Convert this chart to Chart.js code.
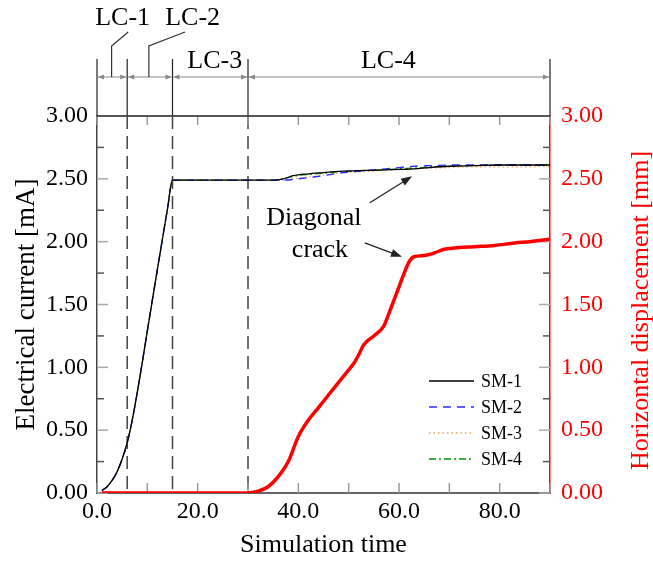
<!DOCTYPE html>
<html lang="en">
<head>
<meta charset="UTF-8">
<title>Electrical current and horizontal displacement</title>
<script src="https://cdn.jsdelivr.net/npm/chart.js"></script>
<style>
  html, body { margin: 0; padding: 0; background: #fff; }
  #wrap { width: 653px; height: 563px; }
</style>
</head>
<body>
<div id="wrap"><canvas id="currentChart" width="653" height="563"></canvas></div>
<script>
// Simulation time shared by the four current series
const smTime = [1, 2, 3, 4, 5, 6, 7, 8, 9, 10, 12, 14, 15, 20, 25, 30, 35, 37, 39, 42, 45, 48, 52, 56, 60, 63, 66, 70, 75, 80, 90];
// Electrical current [mA]
const sm1 = [0.02, 0.05, 0.10, 0.17, 0.27, 0.40, 0.58, 0.80, 1.04, 1.29, 1.78, 2.26, 2.49, 2.49, 2.49, 2.49, 2.49, 2.50, 2.525, 2.54, 2.55, 2.56, 2.565, 2.57, 2.575, 2.58, 2.59, 2.60, 2.605, 2.61, 2.61];
const sm2 = [0.02, 0.05, 0.10, 0.17, 0.27, 0.40, 0.58, 0.80, 1.04, 1.29, 1.78, 2.26, 2.49, 2.49, 2.49, 2.49, 2.49, 2.49, 2.495, 2.51, 2.525, 2.545, 2.56, 2.575, 2.59, 2.60, 2.605, 2.61, 2.61, 2.61, 2.61];
const sm3 = [0.02, 0.05, 0.10, 0.17, 0.27, 0.40, 0.58, 0.80, 1.04, 1.29, 1.78, 2.26, 2.49, 2.49, 2.49, 2.49, 2.49, 2.49, 2.50, 2.515, 2.53, 2.545, 2.555, 2.565, 2.575, 2.58, 2.585, 2.59, 2.595, 2.595, 2.60];
const sm4 = [0.02, 0.05, 0.10, 0.17, 0.27, 0.40, 0.58, 0.80, 1.04, 1.29, 1.78, 2.26, 2.49, 2.49, 2.49, 2.49, 2.49, 2.50, 2.52, 2.535, 2.545, 2.555, 2.565, 2.57, 2.58, 2.585, 2.595, 2.60, 2.605, 2.61, 2.61];

// Horizontal displacement [mm]
const dispTime = [1, 30, 32, 34, 36, 38, 40, 42, 44, 46, 48, 50, 51, 52, 53, 55, 57, 58, 60, 62, 63, 65, 67, 69, 71, 75, 79, 83, 86, 90];
const dispValues = [0, 0, 0.015, 0.05, 0.13, 0.25, 0.45, 0.58, 0.68, 0.78, 0.88, 0.98, 1.03, 1.10, 1.18, 1.25, 1.33, 1.43, 1.64, 1.84, 1.88, 1.89, 1.91, 1.94, 1.95, 1.96, 1.97, 1.99, 2.00, 2.02];

// Load case boundaries on the time axis
const lcBounds = [0, 6, 15, 30, 90];
const lcNames = ['LC-1', 'LC-2', 'LC-3', 'LC-4'];

const serif = "'Liberation Serif', 'Times New Roman', serif";

function toPoints(xs, ys) {
  return xs.map((x, i) => ({ x: x, y: ys[i] }));
}

function line(ctx, x1, y1, x2, y2) {
  ctx.beginPath();
  ctx.moveTo(x1, y1);
  ctx.lineTo(x2, y2);
  ctx.stroke();
}

function arrowHead(ctx, x1, y1, x2, y2, len, half) {
  const ang = Math.atan2(y2 - y1, x2 - x1);
  ctx.beginPath();
  ctx.moveTo(x2, y2);
  ctx.lineTo(x2 - len * Math.cos(ang) + half * Math.sin(ang), y2 - len * Math.sin(ang) - half * Math.cos(ang));
  ctx.lineTo(x2 - len * Math.cos(ang) - half * Math.sin(ang), y2 - len * Math.sin(ang) + half * Math.cos(ang));
  ctx.closePath();
  ctx.fill();
}

const isHalf = v => Math.abs(v * 2 - Math.round(v * 2)) < 1e-6;

// inner ticks, frame and dashed load case lines (under the curves)
const framePlugin = {
  id: 'framePlugin',
  beforeDatasetsDraw(chart) {
    const { ctx, chartArea: a, scales: { x, y, y2 } } = chart;
    ctx.save();

    ctx.strokeStyle = '#444';
    ctx.lineWidth = 1.5;
    ctx.setLineDash([13, 7]);
    lcBounds.slice(1, -1).forEach(v => {
      const px = x.getPixelForValue(v);
      line(ctx, px, a.top, px, a.bottom);
    });
    ctx.setLineDash([]);

    ctx.lineWidth = 1.5;
    y.ticks.forEach(t => {
      const py = y.getPixelForValue(t.value);
      const major = isHalf(t.value);
      ctx.strokeStyle = major ? '#aaa' : '#555';
      line(ctx, a.left, py, a.left + (major ? 11 : 7), py);
    });
    y2.ticks.forEach(t => {
      const py = y2.getPixelForValue(t.value);
      const major = isHalf(t.value);
      ctx.strokeStyle = major ? '#aaa' : '#555';
      line(ctx, a.right, py, a.right - (major ? 11 : 7), py);
    });
    ctx.strokeStyle = '#999';
    x.ticks.forEach(t => {
      const px = x.getPixelForValue(t.value);
      line(ctx, px, a.bottom, px, a.bottom - 10);
      line(ctx, px, a.top, px, a.top + 9);
    });

    ctx.strokeStyle = '#555';
    ctx.lineWidth = 2;
    line(ctx, a.left, a.top, a.right, a.top);
    ctx.restore();
  }
};

// load case bar, annotations, legend and the right axis title
const notesPlugin = {
  id: 'notesPlugin',
  afterDraw(chart) {
    const { ctx, chartArea: a, scales: { x, y } } = chart;
    ctx.save();

    // load case spans
    const rowY = a.top - 39;
    ctx.strokeStyle = '#222';
    ctx.lineWidth = 1.2;
    lcBounds.forEach(v => {
      const px = x.getPixelForValue(v);
      line(ctx, px, a.top - 57, px, a.top);
    });
    ctx.strokeStyle = '#888';
    ctx.fillStyle = '#888';
    ctx.lineWidth = 1;
    for (let i = 0; i < lcBounds.length - 1; i++) {
      const p1 = x.getPixelForValue(lcBounds[i]) + 1;
      const p2 = x.getPixelForValue(lcBounds[i + 1]) - 1;
      line(ctx, p1, rowY, p2, rowY);
      arrowHead(ctx, p2 - 6, rowY, p2, rowY, 6, 2.5);
      arrowHead(ctx, p1 + 6, rowY, p1, rowY, 6, 2.5);
    }

    // leaders for the two short spans
    ctx.strokeStyle = '#333';
    ctx.lineWidth = 1.2;
    [[2.9, 6.2], [10.3, 17.5]].forEach(([from, to]) => {
      const p1 = x.getPixelForValue(from);
      const p2 = x.getPixelForValue(to);
      ctx.beginPath();
      ctx.moveTo(p1, rowY);
      ctx.lineTo(p1, a.top - 70);
      ctx.lineTo(p2, a.top - 84);
      ctx.stroke();
    });

    ctx.fillStyle = '#000';
    ctx.font = '26px ' + serif;
    ctx.textAlign = 'center';
    ctx.textBaseline = 'middle';
    const lcLabelAt = [[5.1, a.top - 98], [19.0, a.top - 98], [23.4, a.top - 55], [57.9, a.top - 55]];
    lcNames.forEach((name, i) => {
      ctx.fillText(name, x.getPixelForValue(lcLabelAt[i][0]), lcLabelAt[i][1]);
    });

    // diagonal crack note
    ctx.fillText('Diagonal', x.getPixelForValue(43.1), y.getPixelForValue(2.185));
    ctx.fillText('crack', x.getPixelForValue(44.3), y.getPixelForValue(1.93));
    ctx.strokeStyle = '#222';
    ctx.fillStyle = '#222';
    ctx.lineWidth = 1.3;
    [[54.2, 2.31, 62.6, 2.52], [53.2, 1.99, 60.6, 1.88]].forEach(([x1, v1, x2, v2]) => {
      const p1 = x.getPixelForValue(x1), q1 = y.getPixelForValue(v1);
      const p2 = x.getPixelForValue(x2), q2 = y.getPixelForValue(v2);
      line(ctx, p1, q1, p2 - (p2 - p1) * 0.12, q2 - (q2 - q1) * 0.12);
      arrowHead(ctx, p1, q1, p2, q2, 11, 4);
    });

    // legend
    ctx.font = '18px ' + serif;
    ctx.textAlign = 'left';
    chart.data.datasets.slice(0, 4).forEach((ds, i) => {
      const ly = a.bottom - 112 + i * 26;
      ctx.strokeStyle = ds.borderColor;
      ctx.lineWidth = ds.borderWidth;
      ctx.setLineDash(ds.borderDash || []);
      line(ctx, a.right - 121, ly, a.right - 76, ly);
      ctx.setLineDash([]);
      ctx.fillStyle = '#000';
      ctx.fillText(ds.label, a.right - 69, ly + 1);
    });

    // right axis title, reading upwards
    ctx.fillStyle = '#ff0000';
    ctx.font = '26px ' + serif;
    ctx.textAlign = 'center';
    ctx.translate(a.right + 91, (a.top + a.bottom) / 2 + 6);
    ctx.rotate(-Math.PI / 2);
    ctx.fillText('Horizontal displacement [mm]', 0, 0);
    ctx.restore();
  }
};

const lineBase = { pointRadius: 0, fill: false, cubicInterpolationMode: 'monotone' };
const tickFont = { family: serif, size: 24 };
const titleFont = { family: serif, size: 26, lineHeight: 1 };

new Chart(document.getElementById('currentChart'), {
  type: 'line',
  data: {
    datasets: [
      Object.assign({ label: 'SM-1', data: toPoints(smTime, sm1), borderColor: '#000000', borderWidth: 1.3, yAxisID: 'y' }, lineBase),
      Object.assign({ label: 'SM-2', data: toPoints(smTime, sm2), borderColor: '#2a2aff', borderWidth: 1.3, borderDash: [8, 6], yAxisID: 'y' }, lineBase),
      Object.assign({ label: 'SM-3', data: toPoints(smTime, sm3), borderColor: '#f5a05a', borderWidth: 1.3, borderDash: [1.5, 3], yAxisID: 'y' }, lineBase),
      Object.assign({ label: 'SM-4', data: toPoints(smTime, sm4), borderColor: '#009a00', borderWidth: 1.3, borderDash: [7, 3, 2, 3], yAxisID: 'y' }, lineBase),
      Object.assign({ label: 'Displacement', data: toPoints(dispTime, dispValues), borderColor: '#ff0000', borderWidth: 3.5, yAxisID: 'y2' }, lineBase)
    ]
  },
  options: {
    responsive: false,
    animation: false,
    layout: { padding: { top: 116, left: 0, right: 0, bottom: 0 } },
    plugins: { legend: { display: false }, tooltip: { enabled: false } },
    scales: {
      x: {
        type: 'linear',
        position: 'bottom',
        min: 0,
        max: 90,
        grid: { display: false, drawTicks: false },
        border: { color: '#666', width: 2 },
        ticks: {
          stepSize: 10,
          autoSkip: false,
          maxRotation: 0,
          padding: 4,
          color: '#000',
          font: tickFont,
          callback: v => (v % 20 === 0 ? v.toFixed(1) : '')
        },
        title: {
          display: true,
          text: 'Simulation time',
          color: '#000',
          font: titleFont,
          padding: { top: 0, bottom: 5 }
        },
        afterFit: s => { s.height = 70; }
      },
      y: {
        position: 'left',
        min: 0,
        max: 3,
        grid: { display: false, drawTicks: false },
        border: { color: '#444', width: 1.5 },
        ticks: {
          stepSize: 0.25,
          autoSkip: false,
          padding: 9,
          color: '#000',
          font: tickFont,
          callback: v => (isHalf(v) ? v.toFixed(2) : '')
        },
        title: {
          display: true,
          text: 'Electrical current [mA]',
          color: '#000',
          font: { family: serif, size: 27, lineHeight: 1 },
          padding: { top: 13, bottom: 0 }
        },
        afterFit: s => { s.width = 97; }
      },
      y2: {
        position: 'right',
        min: 0,
        max: 3,
        grid: { display: false, drawTicks: false },
        border: { color: '#ff0000', width: 1.5 },
        ticks: {
          stepSize: 0.25,
          autoSkip: false,
          padding: 11,
          color: '#ff0000',
          font: tickFont,
          callback: v => (isHalf(v) ? v.toFixed(2) : '')
        },
        afterFit: s => { s.width = 103; }
      }
    }
  },
  plugins: [framePlugin, notesPlugin]
});
</script>
</body>
</html>
